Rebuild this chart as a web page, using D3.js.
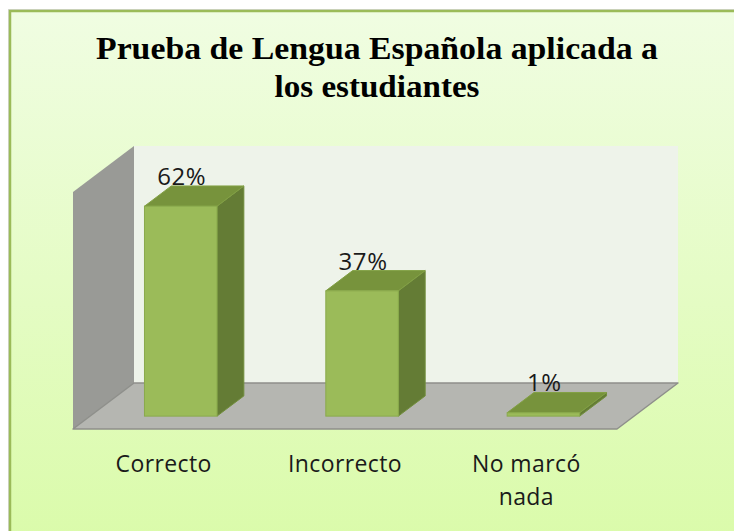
<!DOCTYPE html>
<html>
<head>
<meta charset="utf-8">
<script src="https://cdn.jsdelivr.net/npm/d3@7"></script>
<style>
  html, body { margin: 0; padding: 0; background: #fff; }
  svg { display: block; }
</style>
</head>
<body>
<div class="chart"></div>
<script>
const w = 734;
const h = 531;

// data
const categories = ["Correcto", "Incorrecto", "No marcó nada"];
const values = [0.62, 0.37, 0.01];
const valueLabels = ["62%", "37%", "1%"];
const titleLines = ["Prueba de Lengua Española aplicada a", "los estudiantes"];

// 3d box layout (front plane + depth vector)
const front = { left: 73, right: 617, bottom: 429 };
const depth = { dx: 61, dy: -46 };
const barDepth = [0.28, 0.72]; // fraction of full depth taken by bars
const barRatio = 0.4; // bar width / category band

const svg = d3
  .select(".chart")
  .append("svg")
  .attr("width", w)
  .attr("height", h);

const defs = svg.append("defs");
const bg = defs
  .append("linearGradient")
  .attr("id", "bg")
  .attr("x1", 0)
  .attr("y1", 0)
  .attr("x2", 0)
  .attr("y2", 1);
bg.append("stop").attr("offset", "0%").attr("stop-color", "#f0fde2");
bg.append("stop").attr("offset", "100%").attr("stop-color", "#d9fba7");

// frame (runs off the right / bottom of the picture)
svg
  .append("rect")
  .attr("x", 8)
  .attr("y", 9)
  .attr("width", 760)
  .attr("height", 560)
  .attr("fill", "#d8d8d8");
svg
  .append("rect")
  .attr("x", 10)
  .attr("y", 11)
  .attr("width", 760)
  .attr("height", 560)
  .attr("fill", "url(#bg)")
  .attr("stroke", "#9bbb59")
  .attr("stroke-width", 2.5);

// scales
const xScale = d3
  .scaleBand()
  .domain(categories)
  .range([front.left, front.right])
  .padding(0);

const yScale = d3.scaleLinear().domain([0, 0.7]).range([0, 237]);
const wallH = yScale(0.7);

// walls
const bx = front.left + depth.dx;
const by = front.bottom + depth.dy;

svg
  .append("rect")
  .attr("x", bx)
  .attr("y", by - wallH)
  .attr("width", front.right - front.left)
  .attr("height", wallH)
  .attr("fill", "#eef3ea");

svg
  .append("polygon")
  .attr(
    "points",
    [
      [front.left, front.bottom - wallH],
      [bx, by - wallH],
      [bx, by],
      [front.left, front.bottom],
    ].join(" ")
  )
  .attr("fill", "#999a96");

svg
  .append("polygon")
  .attr(
    "points",
    [
      [front.left, front.bottom],
      [bx, by],
      [front.right + depth.dx, by],
      [front.right, front.bottom],
    ].join(" ")
  )
  .attr("fill", "#b5b6b1")
  .attr("stroke", "#8e8f8b")
  .attr("stroke-width", 1.5)
  .attr("stroke-linejoin", "round");

// bars
const bars = svg
  .selectAll(".bar")
  .data(categories.map((c, i) => ({ cat: c, v: values[i], label: valueLabels[i] })))
  .enter()
  .append("g")
  .attr("class", "bar");

const geo = (d) => {
  const bw = xScale.bandwidth() * barRatio;
  const fx = depth.dx * barDepth[0];
  const fy = depth.dy * barDepth[0];
  const ddx = depth.dx * (barDepth[1] - barDepth[0]);
  const ddy = depth.dy * (barDepth[1] - barDepth[0]);
  const cx = xScale(d.cat) + xScale.bandwidth() / 2 + fx;
  const x0 = cx - bw / 2;
  const x1 = cx + bw / 2;
  const y0 = front.bottom + fy;
  const y1 = y0 - yScale(d.v);
  return { cx, x0, x1, y0, y1, ddx, ddy };
};

bars
  .append("polygon")
  .attr("points", (d) => {
    const g = geo(d);
    return [
      [g.x1, g.y1],
      [g.x1 + g.ddx, g.y1 + g.ddy],
      [g.x1 + g.ddx, g.y0 + g.ddy],
      [g.x1, g.y0],
    ].join(" ");
  })
  .attr("fill", "#647c35")
  .attr("stroke", "#728f3d")
  .attr("stroke-width", 1);

bars
  .append("polygon")
  .attr("points", (d) => {
    const g = geo(d);
    return [
      [g.x0, g.y1],
      [g.x0 + g.ddx, g.y1 + g.ddy],
      [g.x1 + g.ddx, g.y1 + g.ddy],
      [g.x1, g.y1],
    ].join(" ");
  })
  .attr("fill", "#77933c")
  .attr("stroke", "#82a044")
  .attr("stroke-width", 1);

bars
  .append("rect")
  .attr("x", (d) => geo(d).x0)
  .attr("y", (d) => geo(d).y1)
  .attr("width", (d) => geo(d).x1 - geo(d).x0)
  .attr("height", (d) => geo(d).y0 - geo(d).y1)
  .attr("fill", "#9bbb59")
  .attr("stroke", "#8aaa4c")
  .attr("stroke-width", 1);

bars
  .append("text")
  .attr("x", (d) => geo(d).cx + 1)
  .attr("y", (d) => geo(d).y1 + geo(d).ddy - 1)
  .attr("text-anchor", "middle")
  .style("font-family", "'Open Sans', sans-serif")
  .style("font-size", "24px")
  .style("letter-spacing", "0.6px")
  .style("fill", "#1a1a1a")
  .text((d) => d.label);

// category labels
const catLabels = svg
  .selectAll(".cat")
  .data(categories)
  .enter()
  .append("text")
  .attr("class", "cat")
  .attr("x", (d) => xScale(d) + xScale.bandwidth() / 2)
  .attr("y", 472)
  .attr("text-anchor", "middle")
  .style("font-family", "'Open Sans', sans-serif")
  .style("font-size", "23px")
  .style("letter-spacing", "0.4px")
  .style("fill", "#1a1a1a");

catLabels.each(function (d) {
  const parts = d === "No marcó nada" ? ["No marcó", "nada"] : [d];
  d3.select(this)
    .selectAll("tspan")
    .data(parts)
    .enter()
    .append("tspan")
    .attr("x", xScale(d) + xScale.bandwidth() / 2)
    .attr("dy", (p, i) => (i === 0 ? 0 : 33))
    .text((p) => p);
});

// title
const titleWidths = [562, 205];
svg
  .append("text")
  .attr("x", 377)
  .attr("y", 59)
  .attr("text-anchor", "middle")
  .style("font-family", "'Liberation Serif', 'Times New Roman', serif")
  .style("font-weight", "bold")
  .style("font-size", "32px")
  .style("fill", "#000")
  .selectAll("tspan")
  .data(titleLines)
  .enter()
  .append("tspan")
  .attr("x", 377)
  .attr("dy", (d, i) => (i === 0 ? 0 : 38))
  .attr("textLength", (d, i) => titleWidths[i])
  .attr("lengthAdjust", "spacingAndGlyphs")
  .text((d) => d);
</script>
</body>
</html>
